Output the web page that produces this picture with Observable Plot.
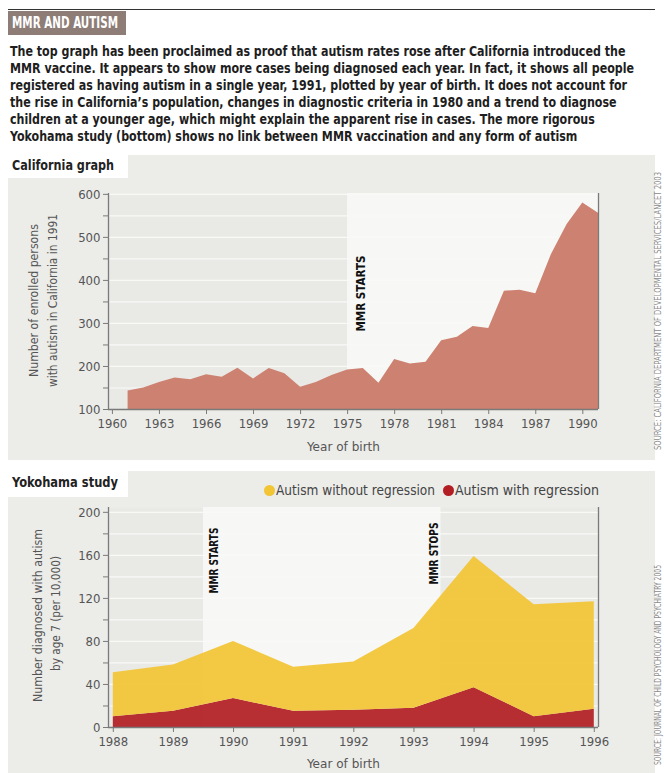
<!DOCTYPE html>
<html>
<head>
<meta charset="utf-8">
<script src="https://cdn.jsdelivr.net/npm/d3@7"></script>
<script src="https://cdn.jsdelivr.net/npm/@observablehq/plot@0.6"></script>
<style>
  html, body { margin: 0; padding: 0; background: #fff; }
  #page { position: relative; width: 664px; height: 773px; overflow: hidden; background: #fff; }
  .abs { position: absolute; white-space: nowrap; }
  svg { overflow: visible; }
</style>
</head>
<body>
<div id="page"></div>
<script>
// ---------------- DATA ----------------
const titleText = "MMR AND AUTISM";
const introLines = [
  "The top graph has been proclaimed as proof that autism rates rose after California introduced the",
  "MMR vaccine. It appears to show more cases being diagnosed each year. In fact, it shows all people",
  "registered as having autism in a single year, 1991, plotted by year of birth. It does not account for",
  "the rise in California’s population, changes in diagnostic criteria in 1980 and a trend to diagnose",
  "children at a younger age, which might explain the apparent rise in cases. The more rigorous",
  "Yokohama study (bottom) shows no link between MMR vaccination and any form of autism"
];

// California graph
const calTitle = "California graph";
const calYears = [1961,1962,1963,1964,1965,1966,1967,1968,1969,1970,1971,1972,1973,1974,1975,1976,
                  1977,1978,1979,1980,1981,1982,1983,1984,1985,1986,1987,1988,1989,1990,1991];
const calEnrolled = [143,150,163,173,169,181,175,196,171,195,183,152,163,179,192,195,
                     161,216,206,210,260,268,293,288,375,377,369,460,530,580,556];
const calXTicks = [1960,1963,1966,1969,1972,1975,1978,1981,1984,1987,1990];
const calYTicks = [100,200,300,400,500,600];
const calYMinor = [150,250,350,450,550];
const calMMRStart = 1975;
const calYLabel1 = "Number of enrolled persons";
const calYLabel2 = "with autism in California in 1991";
const calSource = "SOURCE: CALIFORNIA DEPARTMENT OF DEVELOPMENTAL SERVICES/LANCET 2003";

// Yokohama study
const yokTitle = "Yokohama study";
const yokYears = [1988,1989,1990,1991,1992,1993,1994,1995,1996];
const yokWithRegression    = [10,15,27,15,16,18,37,10,17];
const yokWithoutRegression = [41,43,53,41,45,74,122,104,100];
const yokSeries = ["Autism with regression", "Autism without regression"];
const yokYTicks = [0,40,80,120,160,200];
const yokYMinor = [20,60,100,140,180];
const yokMMRStart = 1989.5;
const yokMMRStop = 1993.45;
const yokYLabel1 = "Number diagnosed with autism";
const yokYLabel2 = "by age 7 (per 10,000)";
const yokSource = "SOURCE: JOURNAL OF CHILD PSYCHOLOGY AND PSYCHIATRY 2005";
const xLabel = "Year of birth";
const mmrStartsLabel = "MMR STARTS";
const mmrStopsLabel = "MMR STOPS";

// ---------------- FONT ----------------
function hasFont(name) {
  const c = document.createElement("canvas").getContext("2d");
  const s = "abcdefghijklmnopqrstuvwxyzABCDEFGHIJ0123456789";
  c.font = "40px monospace"; const a = c.measureText(s).width;
  c.font = `40px "${name}", monospace`; const b = c.measureText(s).width;
  c.font = "40px serif"; const a2 = c.measureText(s).width;
  c.font = `40px "${name}", serif`; const b2 = c.measureText(s).width;
  return a !== b || a2 !== b2;
}
const fontCandidates = ["Liberation Sans Narrow", "DejaVu Sans Condensed", "Roboto Condensed", "Open Sans Condensed", "Roboto"];
const FONT = `"${fontCandidates.find(hasFont) || "Roboto"}", Roboto, sans-serif`;

// ---------------- HTML SCAFFOLD ----------------
const page = document.getElementById("page");
function div(style, text) {
  const d = document.createElement("div");
  d.className = "abs";
  Object.assign(d.style, {fontFamily: FONT}, style);
  if (text != null) d.textContent = text;
  page.appendChild(d);
  return d;
}
function fitWidth(el, w) {
  el.style.display = "inline-block";
  el.style.width = "max-content";
  const cur = el.getBoundingClientRect().width;
  el.style.transformOrigin = "left top";
  el.style.transform = `scaleX(${w / cur})`;
}

// top rule + title
div({left: "8px", top: "9px", width: "647px", height: "1px", background: "#333"});
div({left: "8px", top: "11px", width: "118px", height: "24px", background: "#8e7d77"});
fitWidth(div({left: "12px", top: "14px", color: "#fff", fontWeight: "bold", fontSize: "15px", lineHeight: "18px"}, titleText), 106);

// paragraph
const para = div({left: "10px", top: "43px", color: "#1e1e1e", fontWeight: "bold", fontSize: "13.5px", lineHeight: "17px", width: "max-content"});
const lineSpans = introLines.map(l => {
  const row = document.createElement("div");
  const s = document.createElement("span");
  s.style.whiteSpace = "pre";
  s.textContent = l;
  row.appendChild(s);
  para.appendChild(row);
  return s;
});
{
  const pw = lineSpans[1].getBoundingClientRect().width;
  para.style.transformOrigin = "left top";
  para.style.transform = `scaleX(${624 / pw})`;
}

// panels
const PANEL = "#ecece9";
div({left: "8px", top: "155px", width: "647px", height: "305px", background: PANEL});
div({left: "8px", top: "152px", width: "120px", height: "26px", background: "#fff"});
fitWidth(div({left: "12px", top: "157px", color: "#222", fontWeight: "bold", fontSize: "14px", lineHeight: "17px"}, calTitle), 102);

div({left: "8px", top: "471px", width: "647px", height: "302px", background: PANEL});
div({left: "8px", top: "469px", width: "120px", height: "28px", background: "#fff"});
fitWidth(div({left: "12px", top: "474px", color: "#222", fontWeight: "bold", fontSize: "14px", lineHeight: "17px"}, yokTitle), 106);

// sources (rotated)
function source(text, cx, cy, len) {
  const d = div({left: cx + "px", top: cy + "px", color: "#8a8a8a", fontSize: "8px", lineHeight: "9px"}, text);
  d.style.display = "inline-block";
  const w = d.getBoundingClientRect().width;
  d.style.transformOrigin = "0 0";
  d.style.transform = `rotate(-90deg) translate(${-len / 2}px, ${-4.5}px) scaleX(${len / w})`;
}
source(calSource, 658, 311, 278);
source(yokSource, 658, 665, 200);

// legend
const YELLOW = "#f2c535", RED = "#b21e24";
function legendItem(x, color, label, w) {
  div({left: x + "px", top: "485px", width: "11px", height: "11px", borderRadius: "50%", background: color});
  fitWidth(div({left: (x + 12) + "px", top: "482px", color: "#444", fontSize: "14px", lineHeight: "17px"}, label), w);
}
legendItem(264, YELLOW, "Autism without regression", 159);
legendItem(443, RED, "Autism with regression", 144);

// fit SVG texts to measured lengths
function fitSvgText(svg, lengths) {
  svg.querySelectorAll("text").forEach(t => {
    const L = lengths[t.textContent];
    if (L) { t.setAttribute("textLength", L); t.setAttribute("lengthAdjust", "spacingAndGlyphs"); }
  });
}

// ---------------- PLOTS ----------------
const calData = calYears.map((year, i) => ({year, n: calEnrolled[i]}));
const calX = [1959.75, 1991];
const calY = [100, 602];
const GRID = "#f9f9f7";
const AXIS = "#7a7a7a";
const LABEL = "#555";

const topChart = Plot.plot({
  width: 664, height: 310,
  marginLeft: 108, marginRight: 66, marginTop: 43, marginBottom: 51,
  style: {background: "transparent", fontFamily: FONT, fontSize: "13px", color: LABEL, overflow: "visible"},
  x: {domain: calX},
  y: {domain: calY},
  marks: [
    Plot.frame({fill: "#e9e9e6", stroke: null}),
    Plot.rect([calMMRStart], {x1: d => d, x2: () => calX[1], fill: "#f7f7f5"}),
    Plot.ruleY(calYTicks.concat(calYMinor).filter(d => d > 100), {stroke: GRID, strokeWidth: 1.2}),
    Plot.areaY(calData, {x: "year", y1: calY[0], y2: "n", fill: "#cd8170", curve: "linear"}),
    Plot.ruleX([calX[0], calX[1]], {stroke: AXIS, strokeWidth: 1.3}),
    Plot.ruleY([calY[0]], {stroke: AXIS, strokeWidth: 1.3}),
    Plot.axisY({ticks: calYTicks, tickSize: 5, tickPadding: 3, tickFormat: d => String(d), label: null, stroke: AXIS}),
    Plot.axisY({ticks: calYMinor, tickSize: 5, tickFormat: () => "", label: null, stroke: AXIS}),
    Plot.axisX({ticks: calXTicks, tickSize: 5, tickPadding: 4, tickFormat: d => String(d), label: null, stroke: AXIS}),
    Plot.text([calMMRStart], {x: d => d, frameAnchor: "top", dy: 62, dx: 13, rotate: -90, textAnchor: "end", lineAnchor: "middle",
      text: () => mmrStartsLabel, fill: "#111", fontWeight: "bold", fontSize: 13}),
    Plot.text([calYLabel1], {frameAnchor: "left", dx: -75, dy: -1, rotate: -90, textAnchor: "middle", lineAnchor: "middle", text: d => d, fill: LABEL, fontSize: 13}),
    Plot.text([calYLabel2], {frameAnchor: "left", dx: -56, dy: -1, rotate: -90, textAnchor: "middle", lineAnchor: "middle", text: d => d, fill: LABEL, fontSize: 13}),
    Plot.text([xLabel], {frameAnchor: "bottom", dx: -10, dy: 37, textAnchor: "middle", lineAnchor: "middle", text: d => d, fill: LABEL, fontSize: 13})
  ]
});
fitSvgText(topChart, {[mmrStartsLabel]: 76, [calYLabel1]: 153, [calYLabel2]: 173, [xLabel]: 73});
Object.assign(topChart.style, {position: "absolute", left: "0px", top: "150px"});
page.appendChild(topChart);

const yokData = [];
yokSeries.forEach(type => {
  const vals = type === yokSeries[0] ? yokWithRegression : yokWithoutRegression;
  yokYears.forEach((year, i) => yokData.push({year, type, value: vals[i]}));
});
const yokX = [1987.92, 1996.07];
const yokY = [0, 204.5];

const bottomChart = Plot.plot({
  width: 664, height: 308,
  marginLeft: 108, marginRight: 66, marginTop: 42, marginBottom: 46,
  style: {background: "transparent", fontFamily: FONT, fontSize: "13px", color: LABEL, overflow: "visible"},
  x: {domain: yokX},
  y: {domain: yokY},
  color: {domain: yokSeries, range: [RED, YELLOW]},
  marks: [
    Plot.frame({fill: "#e9e9e6", stroke: null}),
    Plot.rect([[yokMMRStart, yokMMRStop]], {x1: d => d[0], x2: d => d[1], fill: "#f7f7f5"}),
    Plot.ruleY(yokYTicks.concat(yokYMinor).filter(d => d > 0), {stroke: GRID, strokeWidth: 1.2}),
    Plot.areaY(yokData, {x: "year", y: "value", fill: "type", fillOpacity: 0.93, order: yokSeries}),
    Plot.ruleX([yokX[0], yokX[1]], {stroke: AXIS, strokeWidth: 1.3}),
    Plot.ruleY([0], {stroke: AXIS, strokeWidth: 1.3}),
    Plot.axisY({ticks: yokYTicks, tickSize: 5, tickPadding: 3, tickFormat: d => String(d), label: null, stroke: AXIS}),
    Plot.axisY({ticks: yokYMinor, tickSize: 5, tickFormat: () => "", label: null, stroke: AXIS}),
    Plot.axisX({ticks: yokYears, tickSize: 5, tickPadding: 4, tickFormat: d => String(d), label: null, stroke: AXIS}),
    Plot.text([yokMMRStart], {x: d => d, frameAnchor: "top", dy: 20, dx: 10, rotate: -90, textAnchor: "end", lineAnchor: "middle",
      text: () => mmrStartsLabel, fill: "#111", fontWeight: "bold", fontSize: 13}),
    Plot.text([yokMMRStop], {x: d => d, frameAnchor: "top", dy: 15, dx: -7, rotate: -90, textAnchor: "end", lineAnchor: "middle",
      text: () => mmrStopsLabel, fill: "#111", fontWeight: "bold", fontSize: 13}),
    Plot.text([yokYLabel1], {frameAnchor: "left", dx: -71, dy: -2, rotate: -90, textAnchor: "middle", lineAnchor: "middle", text: d => d, fill: LABEL, fontSize: 13}),
    Plot.text([yokYLabel2], {frameAnchor: "left", dx: -53, dy: -4, rotate: -90, textAnchor: "middle", lineAnchor: "middle", text: d => d, fill: LABEL, fontSize: 13}),
    Plot.text([xLabel], {frameAnchor: "bottom", dx: -10, dy: 36, textAnchor: "middle", lineAnchor: "middle", text: d => d, fill: LABEL, fontSize: 13})
  ]
});
fitSvgText(bottomChart, {[yokYLabel1]: 173, [yokYLabel2]: 115, [xLabel]: 73, [mmrStartsLabel]: 66, [mmrStopsLabel]: 62});
Object.assign(bottomChart.style, {position: "absolute", left: "0px", top: "465px"});
page.appendChild(bottomChart);
</script>
</body>
</html>
